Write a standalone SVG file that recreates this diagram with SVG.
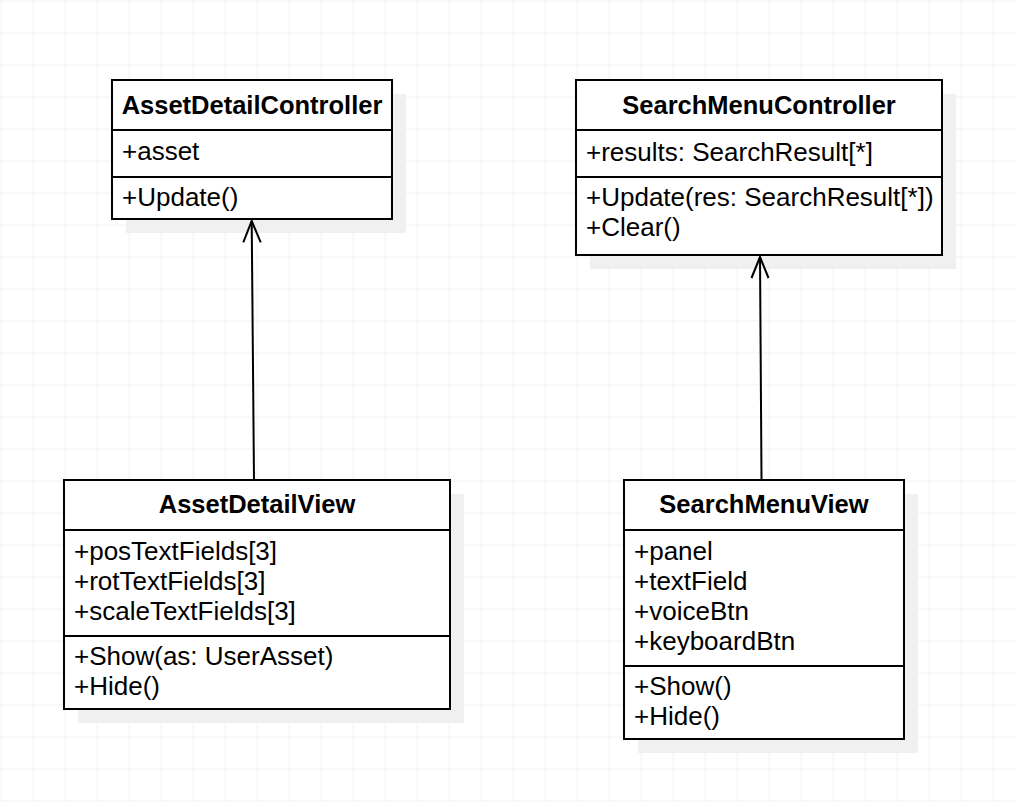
<svg xmlns="http://www.w3.org/2000/svg" width="1016" height="802" viewBox="0 0 1016 802">
<defs>
<pattern id="grid" x="0.5" y="0.5" width="32" height="32" patternUnits="userSpaceOnUse">
<path d="M 32 0 L 0 0 0 32" fill="none" stroke="#f0f0f0" stroke-width="1.5"/>
</pattern>
</defs>
<style>
.box{fill:#ffffff;stroke:#000000;stroke-width:2}
.sh{fill:#f0f0f0}
.div{stroke:#000000;stroke-width:2}
.t{font-family:"Liberation Sans",Arial,sans-serif;font-size:25.5px;font-weight:bold;text-anchor:middle;fill:#000}
.a{font-family:"Liberation Sans",Arial,sans-serif;font-size:26px;fill:#000}
.c{fill:none;stroke:#000;stroke-width:2}
</style>
<rect width="1016" height="802" fill="#ffffff"/>
<rect width="1016" height="802" fill="url(#grid)"/>

<g id="AssetDetailController">
<rect class="sh" x="126" y="94" width="280" height="139"/>
<rect class="box" x="112" y="80" width="280" height="139"/>
<line class="div" x1="112" y1="130" x2="392" y2="130"/>
<line class="div" x1="112" y1="177" x2="392" y2="177"/>
<text class="t" x="252" y="114">AssetDetailController</text>
<text class="a" x="122" y="160">+asset</text>
<text class="a" x="122" y="206">+Update()</text>
</g>

<g id="SearchMenuController">
<rect class="sh" x="590" y="94" width="366" height="175"/>
<rect class="box" x="576" y="80" width="366" height="175"/>
<line class="div" x1="576" y1="130" x2="942" y2="130"/>
<line class="div" x1="576" y1="177" x2="942" y2="177"/>
<text class="t" x="759" y="114">SearchMenuController</text>
<text class="a" x="586" y="161">+results: SearchResult[*]</text>
<text class="a" x="586" y="206">+Update(res: SearchResult[*])</text>
<text class="a" x="586" y="236">+Clear()</text>
</g>

<g id="AssetDetailView">
<rect class="sh" x="78" y="494" width="386" height="229"/>
<rect class="box" x="64" y="480" width="386" height="229"/>
<line class="div" x1="64" y1="530" x2="450" y2="530"/>
<line class="div" x1="64" y1="636" x2="450" y2="636"/>
<text class="t" x="257" y="513">AssetDetailView</text>
<text class="a" x="74" y="560">+posTextFields[3]</text>
<text class="a" x="74" y="590">+rotTextFields[3]</text>
<text class="a" x="74" y="620">+scaleTextFields[3]</text>
<text class="a" x="74" y="665">+Show(as: UserAsset)</text>
<text class="a" x="74" y="695">+Hide()</text>
</g>

<g id="SearchMenuView">
<rect class="sh" x="638" y="494" width="280" height="259"/>
<rect class="box" x="624" y="480" width="280" height="259"/>
<line class="div" x1="624" y1="530" x2="904" y2="530"/>
<line class="div" x1="624" y1="666" x2="904" y2="666"/>
<text class="t" x="764" y="513">SearchMenuView</text>
<text class="a" x="634" y="560">+panel</text>
<text class="a" x="634" y="590">+textField</text>
<text class="a" x="634" y="620">+voiceBtn</text>
<text class="a" x="634" y="650">+keyboardBtn</text>
<text class="a" x="634" y="695">+Show()</text>
<text class="a" x="634" y="725">+Hide()</text>
</g>

<g id="connectors">
<path class="c" d="M 254 480 L 251.7 221"/>
<path class="c" d="M 243.3 242.3 L 251.7 221 L 260.7 242.3"/>
<path class="c" d="M 761.5 480 L 760 257"/>
<path class="c" d="M 751.5 278 L 760 257 L 768.5 278"/>
</g>
</svg>
